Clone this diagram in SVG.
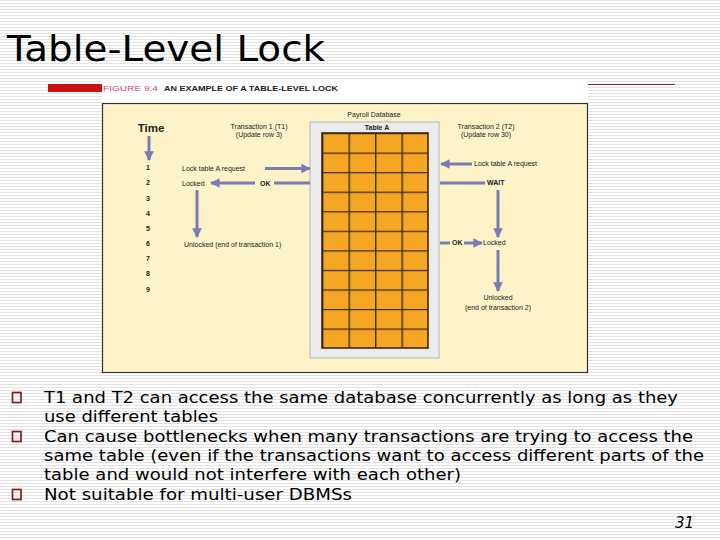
<svg xmlns="http://www.w3.org/2000/svg" width="720" height="540" viewBox="0 0 720 540">
<defs>
<pattern id="stripes" width="6" height="3" patternUnits="userSpaceOnUse">
<rect width="6" height="3" fill="#ffffff"/>
<rect y="0" width="6" height="1" fill="#e2e2e2"/>
</pattern>
<marker id="ah" viewBox="0 0 10 10" refX="9" refY="5" markerWidth="3.2" markerHeight="3.2" orient="auto" markerUnits="strokeWidth">
<path d="M0,0 L10,5 L0,10 z" fill="#7a7db3"/>
</marker>
<pattern id="grid" x="322" y="133" width="26.5" height="19.55" patternUnits="userSpaceOnUse">
<rect width="26.5" height="19.55" fill="#f5a623"/>
<path d="M0,0.5 H26.5 M0.6,0 V19.55" stroke="#3a2a10" stroke-width="1.6" fill="none"/>
</pattern>
</defs>
<style>
.fig{font-family:"Liberation Sans",Arial,sans-serif;fill:#222}
.sm{font-size:7px}
.num{font-size:7px;font-weight:bold;text-anchor:middle}
.body{font-family:"DejaVu Sans",Verdana,sans-serif;font-size:16.5px;fill:#000}
.bul{fill:none;stroke:#8b1a1a;stroke-width:1.7}
.conn{stroke:#7a7db3;stroke-width:3;fill:none}
</style>
<rect width="720" height="540" fill="url(#stripes)"/>

<text x="7" y="61" style="font-family:'DejaVu Sans',Verdana,sans-serif;font-size:35px;fill:#000" textLength="318" lengthAdjust="spacingAndGlyphs">Table-Level Lock</text>

<g id="figure">
<rect x="102" y="80" width="486" height="295" fill="#ffffff"/>
<rect x="48" y="84" width="54" height="8" fill="#cc1111"/>
<line x1="588" y1="84.5" x2="675" y2="84.5" stroke="#8b2020" stroke-width="1.2"/>
<text x="103" y="91" class="fig" style="font-size:8px;fill:#d04070" textLength="55" lengthAdjust="spacingAndGlyphs">FIGURE 9.4</text>
<text x="164" y="91" class="fig" style="font-size:7.5px;font-weight:bold" textLength="174" lengthAdjust="spacingAndGlyphs">AN EXAMPLE OF A TABLE-LEVEL LOCK</text>
<rect x="102.5" y="103.5" width="485" height="269" fill="#fdf3c9" stroke="#333" stroke-width="1.2"/>
</g>

<g id="database">
<text x="374" y="117" class="fig sm" text-anchor="middle">Payroll Database</text>
<rect x="310" y="122" width="129" height="236" fill="#ebebeb" stroke="#c8c8c8" stroke-width="1.5"/>
<text x="377" y="130" class="fig sm" text-anchor="middle" font-weight="bold">Table A</text>
<rect x="322" y="133" width="106" height="215" fill="url(#grid)"/>
<rect x="322" y="133" width="106" height="215" fill="none" stroke="#3a2a10" stroke-width="1.6"/>
</g>

<g id="time">
<text x="151" y="132" class="fig" style="font-size:11.5px;font-weight:bold" text-anchor="middle">Time</text>
<text x="148" y="170" class="fig num">1</text>
<text x="148" y="185" class="fig num">2</text>
<text x="148" y="201" class="fig num">3</text>
<text x="148" y="216" class="fig num">4</text>
<text x="148" y="231" class="fig num">5</text>
<text x="148" y="246" class="fig num">6</text>
<text x="148" y="261" class="fig num">7</text>
<text x="148" y="276" class="fig num">8</text>
<text x="148" y="292" class="fig num">9</text>
</g>

<g id="t1">
<text x="259" y="129" class="fig sm" text-anchor="middle">Transaction 1 (T1)</text>
<text x="259" y="137" class="fig sm" text-anchor="middle">(Update row 3)</text>
<text x="182" y="171" class="fig sm">Lock table A request</text>
<text x="182" y="186" class="fig sm">Locked</text>
<text x="260" y="186" class="fig sm" font-weight="bold">OK</text>
<text x="184" y="247" class="fig sm">Unlocked (end of transaction 1)</text>
</g>

<g id="t2">
<text x="486" y="129" class="fig sm" text-anchor="middle">Transaction 2 (T2)</text>
<text x="486" y="137" class="fig sm" text-anchor="middle">(Update row 30)</text>
<text x="474" y="166" class="fig sm">Lock table A request</text>
<text x="487" y="185" class="fig sm" font-weight="bold">WAIT</text>
<text x="452" y="245" class="fig sm" font-weight="bold">OK</text>
<text x="483" y="245" class="fig sm">Locked</text>
<text x="498" y="300" class="fig sm" text-anchor="middle">Unlocked</text>
<text x="498" y="310" class="fig sm" text-anchor="middle">(end of transaction 2)</text>
</g>

<g id="connectors">
<line class="conn" x1="149" y1="136" x2="149" y2="160" marker-end="url(#ah)"/>
<line class="conn" x1="265" y1="168.5" x2="310" y2="168.5" marker-end="url(#ah)"/>
<line class="conn" x1="255" y1="183" x2="211" y2="183" marker-end="url(#ah)"/>
<line class="conn" x1="274" y1="183" x2="310" y2="183"/>
<line class="conn" x1="197" y1="190" x2="197" y2="237" marker-end="url(#ah)"/>
<line class="conn" x1="472" y1="164" x2="441" y2="164" marker-end="url(#ah)"/>
<line class="conn" x1="440" y1="183" x2="485" y2="183"/>
<line class="conn" x1="498" y1="190" x2="498" y2="237" marker-end="url(#ah)"/>
<line class="conn" x1="440" y1="243" x2="450" y2="243"/>
<line class="conn" x1="464" y1="243" x2="482" y2="243" marker-end="url(#ah)"/>
<line class="conn" x1="498" y1="250" x2="498" y2="291" marker-end="url(#ah)"/>
</g>

<g id="bullets">
<rect class="bul" x="12.5" y="392.5" width="8.5" height="10"/>
<rect class="bul" x="12.5" y="431.5" width="8.5" height="10"/>
<rect class="bul" x="12.5" y="489.5" width="8.5" height="10"/>
<text x="44" y="403" class="body" textLength="634" lengthAdjust="spacingAndGlyphs">T1 and T2 can access the same database concurrently as long as they</text>
<text x="44" y="422" class="body" textLength="174" lengthAdjust="spacingAndGlyphs">use different tables</text>
<text x="44" y="442" class="body" textLength="649" lengthAdjust="spacingAndGlyphs">Can cause bottlenecks when many transactions are trying to access the</text>
<text x="44" y="461" class="body" textLength="660" lengthAdjust="spacingAndGlyphs">same table (even if the transactions want to access different parts of the</text>
<text x="44" y="480" class="body" textLength="417" lengthAdjust="spacingAndGlyphs">table and would not interfere with each other)</text>
<text x="44" y="500" class="body" textLength="308" lengthAdjust="spacingAndGlyphs">Not suitable for multi-user DBMSs</text>
<text x="694" y="528" style="font-family:'DejaVu Sans',Verdana,sans-serif;font-size:15px;font-style:italic;fill:#000" text-anchor="end">31</text>
</g>
</svg>
